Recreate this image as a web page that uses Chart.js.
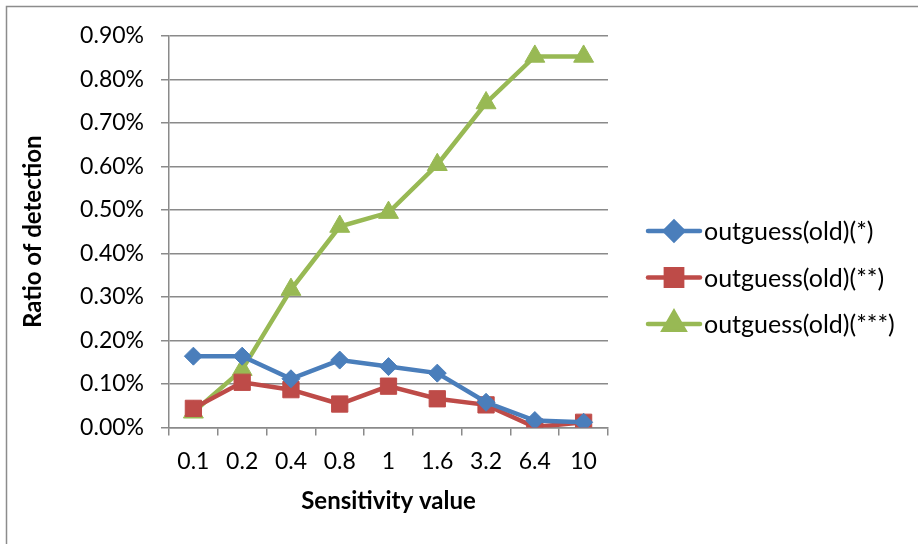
<!DOCTYPE html>
<html>
<head>
<meta charset="utf-8">
<script src="https://cdn.jsdelivr.net/npm/chart.js@4.4.1/dist/chart.umd.min.js"></script>
<style>
  html, body { margin: 0; padding: 0; background: #ffffff; }
  #wrap { width: 918px; height: 544px; position: relative; }
</style>
</head>
<body>
<div id="wrap"><canvas id="c" width="918" height="544"></canvas></div>
<script>
// ---- data (values in percent) ----
const categories = ["0.1", "0.2", "0.4", "0.8", "1", "1.6", "3.2", "6.4", "10"];
const seriesStar1 = [0.164, 0.164, 0.112, 0.155, 0.140, 0.125, 0.058, 0.016, 0.012];
const seriesStar2 = [0.044, 0.104, 0.087, 0.054, 0.095, 0.066, 0.052, 0.001, 0.012];
const seriesStar3 = [0.035, 0.133, 0.317, 0.462, 0.494, 0.604, 0.746, 0.853, 0.853];
const seriesNames = ["outguess(old)(*)", "outguess(old)(**)", "outguess(old)(***)"];
const yTickMin = 0, yTickMax = 0.9, yTickStep = 0.1;
const xTitle = "Sensitivity value";
const yTitle = "Ratio of detection";

const FONT = "Lato, 'Open Sans', 'Liberation Sans', sans-serif";
const GRID = "#8a8a8a";

const frame = {
  id: 'frame',
  beforeDraw(chart) {
    const ctx = chart.ctx;
    ctx.save();
    ctx.fillStyle = '#ffffff';
    ctx.fillRect(0, 0, chart.width, chart.height);
    ctx.strokeStyle = '#8c8c8c';
    ctx.lineWidth = 1.5;
    ctx.strokeRect(6.5, 6.5, 1200, 1200);
    ctx.restore();
  }
};

const sideLegend = {
  id: 'sideLegend',
  afterDraw(chart) {
    const ctx = chart.ctx;
    const x0 = 648, x1 = 700, y0 = 231, dy = 46.5;
    ctx.save();
    chart.data.datasets.forEach((ds, i) => {
      const y = y0 + i * dy;
      ctx.strokeStyle = ds.borderColor;
      ctx.lineWidth = ds.borderWidth;
      ctx.lineCap = 'round';
      ctx.beginPath();
      ctx.moveTo(x0, y);
      ctx.lineTo(x1, y);
      ctx.stroke();
      Chart.helpers.drawPoint(ctx, {
        pointStyle: ds.pointStyle,
        radius: ds.pointRadius,
        borderWidth: 1,
        rotation: 0
      }, (x0 + x1) / 2, y);
      ctx.fillStyle = ds.pointBackgroundColor;
      ctx.strokeStyle = ds.pointBorderColor;
      ctx.fill();
      ctx.fillStyle = '#000000';
      ctx.font = "25px " + FONT;
      ctx.textBaseline = 'middle';
      ctx.textAlign = 'left';
      ctx.fillText(ds.label, x1 + 4, y + 1);
    });
    ctx.restore();
  }
};

function mk(label, data, color, style, r) {
  return {
    label, data,
    borderColor: color,
    backgroundColor: color,
    pointBackgroundColor: color,
    pointBorderColor: color,
    borderWidth: 4.5,
    pointStyle: style,
    pointRadius: r,
    pointHoverRadius: r,
    pointBorderWidth: 1,
    tension: 0,
    fill: false
  };
}

new Chart(document.getElementById('c'), {
  type: 'line',
  data: {
    labels: categories,
    datasets: [
      mk(seriesNames[0], seriesStar1, '#4a7ebb', 'rectRot', 9),
      mk(seriesNames[1], seriesStar2, '#be4b48', 'rect', 11.5),
      mk(seriesNames[2], seriesStar3, '#98b954', 'triangle', 11.5)
    ]
  },
  options: {
    responsive: false,
    animation: false,
    devicePixelRatio: 1,
    layout: { padding: { left: 0, top: 36, right: 310, bottom: 0 } },
    plugins: {
      legend: { display: false },
      tooltip: { enabled: false },
      title: { display: false }
    },
    scales: {
      x: {
        type: 'category',
        offset: true,
        grid: {
          offset: true,
          drawOnChartArea: false,
          drawTicks: true,
          tickLength: 8,
          color: GRID,
          lineWidth: 1.5
        },
        border: { display: true, color: GRID, width: 1.5 },
        ticks: {
          color: '#000000',
          font: { family: FONT, size: 23 },
          padding: 12,
          maxRotation: 0,
          autoSkip: false
        },
        title: {
          display: true,
          text: xTitle,
          color: '#000000',
          font: { family: FONT, size: 24, weight: 'bold' },
          padding: { top: 0, bottom: 28 }
        },
        afterFit(scale) { scale.height = 544 - 427.5; }
      },
      y: {
        min: yTickMin,
        max: yTickMax,
        grid: {
          drawOnChartArea: true,
          drawTicks: true,
          tickLength: 8,
          color: GRID,
          lineWidth: 1.5
        },
        border: { display: true, color: GRID, width: 1.5 },
        ticks: {
          stepSize: yTickStep,
          color: '#000000',
          font: { family: FONT, size: 23 },
          padding: 17,
          callback: (v) => Number(v).toFixed(2) + '%'
        },
        title: {
          display: true,
          text: yTitle,
          color: '#000000',
          font: { family: FONT, size: 24, weight: 'bold' },
          padding: { top: 19, bottom: 0 }
        },
        afterFit(scale) { scale.width = 169; }
      }
    }
  },
  plugins: [frame, sideLegend]
});
</script>
</body>
</html>
